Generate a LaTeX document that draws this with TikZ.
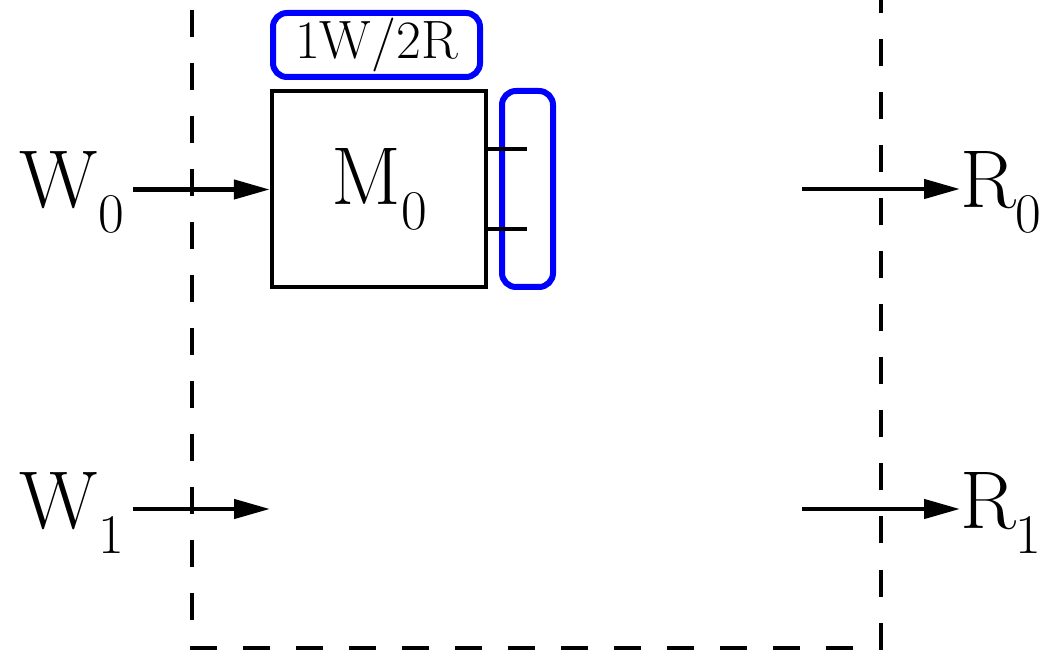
\documentclass[tikz,border=0pt]{standalone}
\usepackage{tikz}
\usetikzlibrary{arrows.meta,positioning}
\definecolor{portblue}{RGB}{0,0,255}
\newcommand{\lowsub}[1]{\raisebox{-25pt}{\fontsize{56}{60}\selectfont #1}}

\begin{document}
\begin{tikzpicture}[x=1pt,y=1pt,
    every node/.style={inner sep=0pt,font=\fontsize{82}{100}\selectfont},
    wire/.style={line width=4.5pt,-{Triangle[length=36pt,width=19pt]}},
    frame/.style={line width=4pt,dash pattern=on 27pt off 26pt},
    port/.style={draw=portblue,line width=6pt,rounded corners=14pt}]
        \useasboundingbox (0,0) rectangle (1049,656);
        % dashed block boundary
        \draw[frame] (192,646) -- (192,8) -- (880.5,8) -- (880.5,660);
        % memory bank
        \node[draw,line width=4pt,minimum width=214.5pt,minimum height=196pt] (M0) at (379,466.5) {M\lowsub{0}};
        \node[port,minimum width=207pt,minimum height=64pt,font=\fontsize{54}{60}\selectfont] (cfg) at (376.5,611) {1W/2R};
        \node[port,minimum width=51pt,minimum height=196pt] (rd) at (527.5,467) {};
        \coordinate (t0) at (527,507);
        \coordinate (t1) at (527,427);
        \draw[line width=3.5pt] (t0 -| M0.east) -- (t0);
        \draw[line width=3.5pt] (t1 -| M0.east) -- (t1);
        % write ports
        \node[anchor=base east] (W0) at (124,448) {W\lowsub{0}};
        \node[anchor=base east] (W1) at (124,128) {W\lowsub{1}};
        \coordinate (M1in) at (270,147);
        \draw[wire,shorten <=9pt] (W0.east |- M0.west) -- (M0.west);
        \draw[wire,shorten <=9pt] (W1.east |- M1in) -- (M1in);
        % read ports
        \node[anchor=base west] (R0) at (960,448) {R\lowsub{0}};
        \node[anchor=base west] (R1) at (960,128) {R\lowsub{1}};
        \coordinate (R0out) at (802,467);
        \coordinate (R1out) at (802,147);
        \draw[wire] (R0out) -- (R0out -| R0.west);
        \draw[wire] (R1out) -- (R1out -| R1.west);
    \end{tikzpicture}
\end{document}
